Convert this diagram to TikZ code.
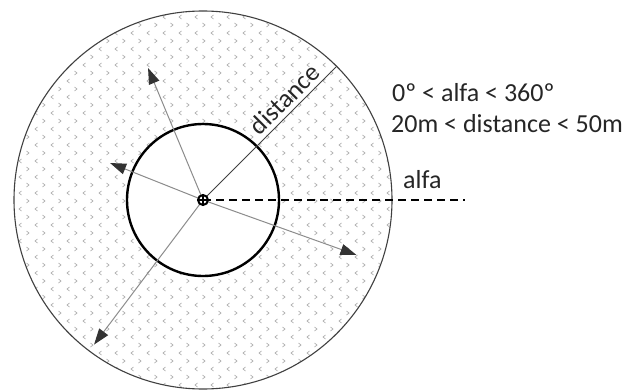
\documentclass[tikz,border=0pt]{standalone}
\usepackage{fontspec}
\setmainfont{Carlito}
\usetikzlibrary{arrows.meta,patterns,positioning,calc}

% small grey chevrons for the search ring
\pgfdeclarepatternformonly{chevrons}{\pgfpoint{-1pt}{-1pt}}{\pgfpoint{17pt}{17pt}}{\pgfpoint{16pt}{16pt}}{
  \pgfsetlinewidth{0.7pt}
  \pgfpathmoveto{\pgfpoint{5.5pt}{6pt}}\pgfpathlineto{\pgfpoint{3pt}{4pt}}\pgfpathlineto{\pgfpoint{5.5pt}{2pt}}
  \pgfpathmoveto{\pgfpoint{10.5pt}{14pt}}\pgfpathlineto{\pgfpoint{13pt}{12pt}}\pgfpathlineto{\pgfpoint{10.5pt}{10pt}}
  \pgfusepath{stroke}
}

\begin{document}
\begin{tikzpicture}[x=1pt, y=1pt,
    ring/.style={circle, draw=black!75, line width=1.1pt, minimum size=378pt, inner sep=0pt,
      pattern=chevrons, pattern color=black!32},
    inner/.style={circle, draw=black, line width=2.4pt, fill=white, minimum size=152pt, inner sep=0pt},
    probe/.style={draw=black!45, line width=1pt, -{Triangle[length=16pt, width=11pt, color=black!80]}},
    label/.style={font=\fontsize{26}{30}\selectfont, text=black!85, inner sep=0pt}]
    \useasboundingbox (0,0) rectangle (632,389);

    % circles
    \coordinate (o) at (203,189);
    \node[ring] (outer) at (o) {};
    \node[inner] (innerc) at (o) {};

    % random directions
    \coordinate (p1) at ($(o)+(112.6:143)$);
    \coordinate (p2) at ($(o)+(158.3:100)$);
    \coordinate (p3) at ($(o)+(-19.7:163)$);
    \coordinate (p4) at ($(o)+(233:181)$);
    \draw[probe] (o) -- (p1);
    \draw[probe] (o) -- (p2);
    \draw[probe] (o) -- (p3);
    \draw[probe] (o) -- (p4);

    % distance and angle
    \draw[black!75, line width=1pt] (o) -- (outer.45) node[pos=0.68, sloped, above=4pt, label] (dl) {distance};
    \coordinate (a) at (465,189);
    \draw[black, line width=2.4pt, dash pattern=on 8pt off 5pt] (o) -- (a);

    % centre mark
    \node[circle, draw=black, line width=2pt, fill=white, minimum size=10pt, inner sep=0pt] (c) at (o) {};
    \draw[line width=1.2pt] (c.north) -- (c.south) (c.west) -- (c.east);

    % ranges
    \node[label, anchor=base west] (r1) at (392,287) {0º < alfa < 360º};
    \node[label, anchor=base west] (r2) at (391,256) {20m < distance < 50m};
    \node[label, anchor=base west] (al) at (403,201) {alfa};
\end{tikzpicture}
\end{document}
